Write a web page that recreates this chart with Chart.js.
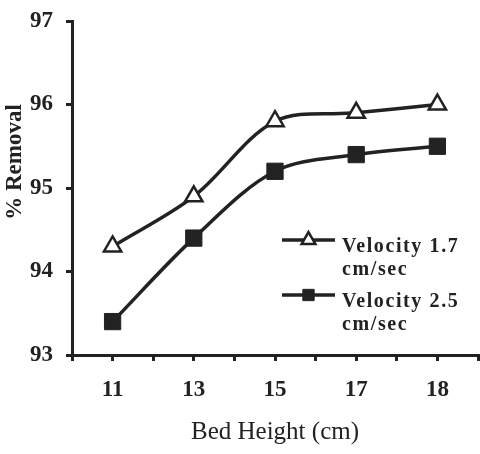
<!DOCTYPE html>
<html>
<head>
<meta charset="utf-8">
<script src="https://cdn.jsdelivr.net/npm/chart.js@4"></script>
<style>
  html, body { margin: 0; padding: 0; background: #fff; }
</style>
</head>
<body>
<canvas id="chart" width="480" height="454"></canvas>
<script>
const bedHeights = ['11', '13', '15', '17', '18'];
const removalV17 = [94.3, 94.9, 95.8, 95.9, 96.0];
const removalV25 = [93.4, 94.4, 95.2, 95.4, 95.5];
const seriesLabels = [['Velocity 1.7', 'cm/sec'], ['Velocity 2.5', 'cm/sec']];
const xTitle = 'Bed Height (cm)';
const yTitle = '% Removal';

const ink = '#222';
const serif = '"Liberation Serif", "Times New Roman", serif';

function toPoints(values) {
  return values.map((v, i) => ({ x: i, y: v }));
}

// legend sits inside the plot, entries wrap onto two lines
const innerLegend = {
  id: 'innerLegend',
  afterDatasetsDraw(chart) {
    const ctx = chart.ctx;
    const x0 = 282, x1 = 335, textX = 342;
    const rows = [240, 295];
    chart.data.datasets.forEach((ds, i) => {
      const y = rows[i];
      ctx.save();
      ctx.strokeStyle = ds.borderColor;
      ctx.lineWidth = 3.5;
      ctx.beginPath();
      ctx.moveTo(x0, y);
      ctx.lineTo(x1, y);
      ctx.stroke();
      ctx.fillStyle = ds.pointBackgroundColor;
      ctx.strokeStyle = ds.pointBorderColor;
      ctx.lineWidth = ds.pointBorderWidth;
      Chart.helpers.drawPoint(ctx, {
        pointStyle: ds.pointStyle, radius: 8, rotation: 0, borderWidth: ds.pointBorderWidth
      }, (x0 + x1) / 2, y);
      ctx.fillStyle = ink;
      ctx.font = 'bold 20px ' + serif;
      ctx.letterSpacing = '1.6px';
      ctx.textAlign = 'left';
      ctx.textBaseline = 'alphabetic';
      seriesLabels[i].forEach((line, j) => ctx.fillText(line, textX, y + 12 + j * 23));
      ctx.restore();
    });
  }
};

// y title sits a bit above the axis middle in the original
const yTitlePlugin = {
  id: 'yTitle',
  afterDraw(chart) {
    const ctx = chart.ctx;
    ctx.save();
    ctx.translate(15, 162);
    ctx.rotate(-Math.PI / 2);
    ctx.fillStyle = ink;
    ctx.font = 'bold 23px ' + serif;
    ctx.textAlign = 'center';
    ctx.textBaseline = 'middle';
    ctx.fillText(yTitle, 0, 0);
    ctx.restore();
  }
};

new Chart(document.getElementById('chart'), {
  type: 'line',
  data: {
    datasets: [
      {
        label: seriesLabels[0].join(' '),
        data: toPoints(removalV17),
        borderColor: ink,
        borderWidth: 3.5,
        tension: 0.33,
        pointStyle: 'triangle',
        pointRadius: 10,
        pointBackgroundColor: '#fff',
        pointBorderColor: ink,
        pointBorderWidth: 2.5
      },
      {
        label: seriesLabels[1].join(' '),
        data: toPoints(removalV25),
        borderColor: ink,
        borderWidth: 3.5,
        tension: 0.33,
        pointStyle: 'rect',
        pointRadius: 11.5,
        pointBackgroundColor: ink,
        pointBorderColor: ink,
        pointBorderWidth: 1
      }
    ]
  },
  options: {
    responsive: false,
    animation: false,
    layout: { autoPadding: false, padding: { top: 21, right: 2, left: 0, bottom: 0 } },
    plugins: { legend: { display: false }, tooltip: { enabled: false } },
    scales: {
      x: {
        type: 'linear',
        min: -0.5,
        max: 4.5,
        afterFit: s => { s.height = 99; s.paddingLeft = 0; s.paddingRight = 0; },
        grid: { drawOnChartArea: false, drawTicks: true, tickLength: 6, lineWidth: 3, color: ink },
        border: { display: true, width: 3, color: ink },
        ticks: {
          stepSize: 0.5,
          autoSkip: false,
          maxRotation: 0,
          padding: 15,
          color: ink,
          font: { family: serif, size: 23, weight: 'bold' },
          callback: v => (Number.isInteger(v) ? bedHeights[v] : '')
        },
        title: {
          display: true,
          text: xTitle,
          color: ink,
          font: { family: serif, size: 25 },
          padding: { top: 0, bottom: 7 }
        }
      },
      y: {
        min: 93,
        max: 97,
        afterFit: s => { s.width = 72; s.paddingTop = 0; s.paddingBottom = 0; },
        grid: { drawOnChartArea: false, drawTicks: true, tickLength: 6, lineWidth: 3, color: ink },
        border: { display: true, width: 3, color: ink },
        ticks: {
          stepSize: 1,
          padding: 13,
          color: ink,
          font: { family: serif, size: 23, weight: 'bold' }
        }
      }
    }
  },
  plugins: [innerLegend, yTitlePlugin]
});
</script>
</body>
</html>
